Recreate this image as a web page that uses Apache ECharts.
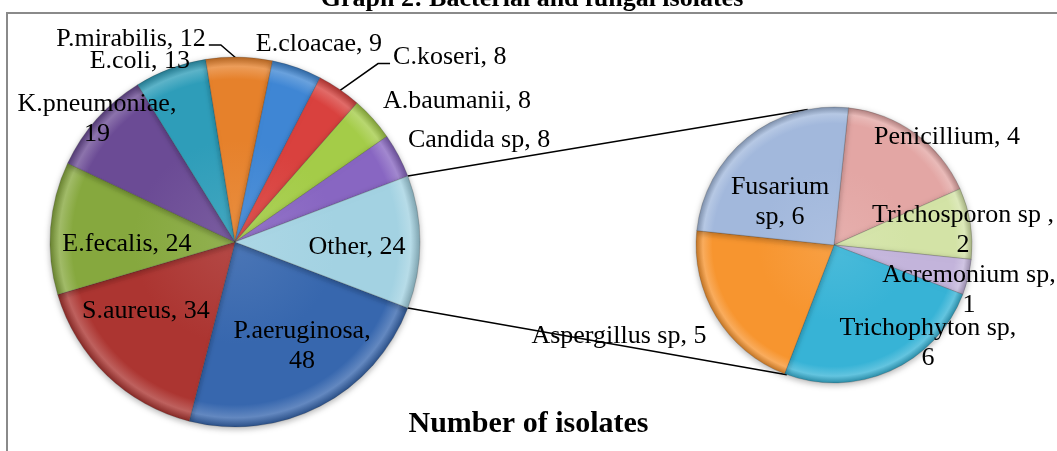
<!DOCTYPE html>
<html><head><meta charset="utf-8">
<script src="https://cdn.jsdelivr.net/npm/echarts@6/dist/echarts.min.js"></script>
<style>html,body{margin:0;padding:0;background:#fff;}#c{width:1057px;height:451px;}</style>
</head><body><div id="c"></div>
<script>
// ---- data ----
const graphTitle = 'Graph 2: Bacterial and fungal isolates';
const chartTitle = 'Number of isolates';
const mainCategories = ['P.aeruginosa','S.aureus','E.fecalis','K.pneumoniae','E.coli','P.mirabilis','E.cloacae','C.koseri','A.baumanii','Candida sp','Other'];
const mainValues = [48,34,24,19,13,12,9,8,8,8,24];
const fungalCategories = ['Penicillium','Trichosporon sp','Acremonium sp','Trichophyton sp','Aspergillus sp','Fusarium sp'];
const fungalValues = [4,2,1,6,5,6];

// ---- styles / layout ----
const mainColors = ['#3767AE','#AC3531','#86A83E','#6B4B95','#2E9DB9','#E6812B','#3F86D4','#D9413E','#A4CC48','#8866C2','#A3D2E2'];
const fungalColors = ['#E3A6A4','#D3E3A6','#C3B4DB','#37B3D6','#F7952F','#A2B8DC'];
const MAIN = {cx:235, cy:242, r:185};
const SUB = {cx:834, cy:245, r:138, startClock:6};
const FONT = 'Liberation Serif';
// label placement: [radius factor, angle offset from slice middle (deg)]
const mainLabelPlace = {
  'P.aeruginosa':[0.669,-5.4], 'S.aureus':[0.609,8.3], 'E.fecalis':[0.584,-5.4], 'K.pneumoniae':[1.0,0],
  'E.coli':[1.105,-7.3], 'P.mirabilis':[1.233,-28.4], 'E.cloacae':[1.163,3.4], 'C.koseri':[1.53,15],
  'A.baumanii':[1.422,9.3], 'Candida sp':[1.43,5.1], 'Other':[0.66,2.3]
};
const fungalLabelPlace = {
  'Penicillium':[1.133,10.3], 'Trichosporon sp':[0.941,2.4], 'Acremonium sp':[1.031,4.9],
  'Trichophyton sp':[0.984,-19.8], 'Aspergillus sp':[1.692,8.6], 'Fusarium sp':[0.5,-12.5]
};
const labelFormats = {
  'P.aeruginosa':'{b},\n{c}', 'K.pneumoniae':'{b},\n{c}', 'Fusarium sp':'Fusarium\nsp, {c}',
  'Trichosporon sp':'{b} ,\n{c}', 'Acremonium sp':'{b},\n{c}', 'Trichophyton sp':'{b},\n{c}'
};
const leaderNames = ['P.mirabilis','C.koseri'];
const otherName = 'Other';

function sum(a){return a.reduce((s,v)=>s+v,0);}
function geom(values, startClock){
  const tot = sum(values); let a = startClock; const mids=[];
  values.forEach(v=>{const span=v/tot*360; mids.push(a+span/2); a+=span;});
  return mids;
}
// main pie: "Other" slice centred on the right (3 o'clock)
const mainTotal = sum(mainValues);
const otherIdx = mainCategories.indexOf(otherName);
const otherSpan = mainValues[otherIdx]/mainTotal*360;
const mainStartClock = 90 + otherSpan/2;
const mainMids = geom(mainValues, mainStartClock);
const fungalMids = geom(fungalValues, SUB.startClock);

function pt(P, clockDeg, d){const a=clockDeg*Math.PI/180; return [P.cx+d*Math.sin(a), P.cy-d*Math.cos(a)];}

function hexToRgb(h){h=h.replace('#','');return [parseInt(h.substr(0,2),16),parseInt(h.substr(2,2),16),parseInt(h.substr(4,2),16)];}
function shade(h,f){const c=hexToRgb(h).map(v=>Math.round(f>0?v+(255-v)*f:v*(1+f)));return 'rgb('+c.join(',')+')';}
function bevel(h,P){
  return new echarts.graphic.RadialGradient(P.cx,P.cy,P.r,[
    {offset:0,color:shade(h,0.10)},{offset:0.55,color:h},{offset:0.88,color:h},
    {offset:0.95,color:shade(h,0.22)},{offset:1,color:shade(h,-0.22)}],true);
}
function fmt(n){return labelFormats[n]||'{b}, {c}';}

function layoutFor(P, names, mids, place){
  return function(params){
    const i = params.dataIndex, n = names[i], pl = place[n];
    const p = pt(P, mids[i]+pl[1], pl[0]*P.r);
    const res = {x:p[0], y:p[1], align:'center', verticalAlign:'middle'};
    if (leaderNames.indexOf(n) >= 0) {
      const w = params.labelRect.width;
      const left = p[0] < P.cx;
      const ex = left ? p[0]+w/2 : p[0]-w/2;
      const s = left ? 1 : -1;
      const edge = pt(P, mids[i], P.r*0.98);
      res.labelLinePoints = [[ex+s*3, p[1]+6],[ex+s*15, p[1]+6], edge];
    }
    return res;
  };
}

const labelBase = {show:true, fontFamily:FONT, fontSize:26, lineHeight:30, color:'#000', align:'center'};
const itemBase = {borderColor:'rgba(40,40,40,0.25)', borderWidth:0.8, shadowBlur:6, shadowColor:'rgba(0,0,0,0.3)', shadowOffsetY:2};

const mainData = mainCategories.map((n,i)=>{
  const lead = leaderNames.indexOf(n)>=0;
  return {name:n, value:mainValues[i], itemStyle:{color:bevel(mainColors[i],MAIN)},
    label:{formatter:fmt(n), position: lead?'outside':'inside'}, labelLine:{show:lead}};
});
const fungalData = fungalCategories.map((n,i)=>({name:n, value:fungalValues[i],
  itemStyle:{color:bevel(fungalColors[i],SUB)}, label:{formatter:fmt(n), position:'inside'}, labelLine:{show:false}}));

// connector lines from the "Other" slice to the fungal pie
const otherStart = mainStartClock + (mainTotal-mainValues[otherIdx])/mainTotal*360;
const cTop0 = pt(MAIN, otherStart, MAIN.r), cBot0 = pt(MAIN, mainStartClock, MAIN.r);
const cTop1 = pt(SUB, -11, SUB.r), cBot1 = pt(SUB, 200, SUB.r);

const chart = echarts.init(document.getElementById('c'));
chart.setOption({
  animation:false,
  backgroundColor:'#fff',
  title:{text:chartTitle, left:'center', top:404, textStyle:{fontFamily:FONT, fontSize:30, fontWeight:'bold', color:'#000'}},
  graphic:[
    {type:'polyline', z:0, shape:{points:[[7,451],[7,13],[1057,13]]}, style:{stroke:'#8a8a8a', lineWidth:2, fill:null}},
    {type:'text', z:1, style:{text:graphTitle, x:532, y:12, align:'center', verticalAlign:'bottom', fontFamily:FONT, fontSize:26, fontWeight:'bold', fill:'#000'}},
    {type:'line', z:1, shape:{x1:cTop0[0],y1:cTop0[1],x2:cTop1[0],y2:cTop1[1]}, style:{stroke:'#000', lineWidth:1.5}},
    {type:'line', z:1, shape:{x1:cBot0[0],y1:cBot0[1],x2:cBot1[0],y2:cBot1[1]}, style:{stroke:'#000', lineWidth:1.5}}
  ],
  series:[
    {type:'pie', center:[MAIN.cx,MAIN.cy], radius:MAIN.r, startAngle:90-mainStartClock, clockwise:true,
     avoidLabelOverlap:false, data:mainData, label:labelBase,
     labelLine:{lineStyle:{color:'#000', width:1.5}, length:10, length2:10},
     itemStyle:itemBase, emphasis:{disabled:true},
     labelLayout:layoutFor(MAIN, mainCategories, mainMids, mainLabelPlace)},
    {type:'pie', center:[SUB.cx,SUB.cy], radius:SUB.r, startAngle:90-SUB.startClock, clockwise:true,
     avoidLabelOverlap:false, data:fungalData, label:labelBase, labelLine:{show:false},
     itemStyle:itemBase, emphasis:{disabled:true},
     labelLayout:layoutFor(SUB, fungalCategories, fungalMids, fungalLabelPlace)}
  ]
});
</script></body></html>
